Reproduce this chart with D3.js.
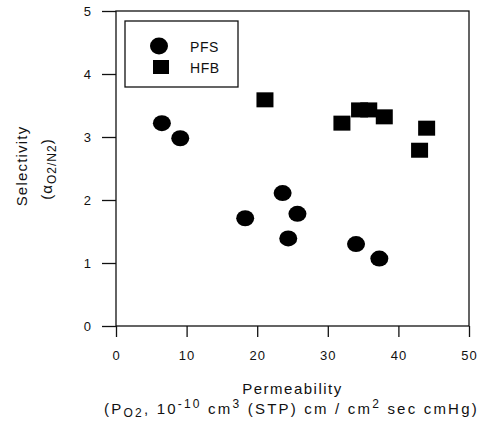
<!DOCTYPE html>
<head>
  <meta charset="utf-8">
  <style>
    body { margin: 0; background: #fff; }
    text { font-family: "Liberation Sans", Arial, sans-serif; fill: #111; }
  </style>
</head>
<body>
  <div id="viz"></div>
  <script src="https://d3js.org/d3.v7.min.js"></script>
  <script>
    // PFS (circles)
    let pfsX = [6.5, 9.1, 18.3, 23.6, 24.4, 25.7, 34.0, 37.3];
    let pfsY = [3.22, 2.98, 1.71, 2.11, 1.39, 1.78, 1.30, 1.07];
    // HFB (squares)
    let hfbX = [21.1, 32.0, 34.5, 35.8, 38.0, 43.0, 44.0];
    let hfbY = [3.59, 3.22, 3.43, 3.43, 3.32, 2.79, 3.14];
    let xTicks = [0, 10, 20, 30, 40, 50];
    let yTicks = [0, 1, 2, 3, 4, 5];

    let margin = { top: 11, left: 116, right: 15, bottom: 102 },
      width = 484 - margin.left - margin.right,
      height = 428 - margin.top - margin.bottom;

    let svg = d3.select('#viz').append('svg')
      .attr('width', 484).attr('height', 428);
    let g = svg.append('g')
      .attr('transform', `translate(${margin.left}, ${margin.top})`);

    let x = d3.scaleLinear().domain([0, 50]).range([0, width]);
    let y = d3.scaleLinear().domain([0, 5]).range([height, 0]);

    // frame
    g.append('rect')
      .attr('width', width).attr('height', height)
      .attr('fill', 'none').attr('stroke', '#111').attr('stroke-width', 1.3);

    let xAxis = g.append('g')
      .attr('transform', `translate(0, ${height})`)
      .call(d3.axisBottom(x).tickValues(xTicks).tickSize(11).tickPadding(14).tickFormat(d3.format('d')));
    let yAxis = g.append('g')
      .call(d3.axisLeft(y).tickValues(yTicks).tickSize(14).tickPadding(10).tickFormat(d3.format('d')));

    [xAxis, yAxis].forEach(a => {
      a.select('.domain').remove();
      a.selectAll('line').attr('stroke', '#111').attr('stroke-width', 1.3);
      a.selectAll('text').style('font-size', '13px').attr('fill', '#111')
        .style('letter-spacing', '1px')
        .style('font-family', '"Liberation Sans", Arial, sans-serif');
    });

    // points
    g.selectAll('.pfs')
      .data(pfsX.map((d, i) => ({ x: d, y: pfsY[i] })))
      .join('ellipse')
      .attr('class', 'pfs')
      .attr('cx', d => x(d.x)).attr('cy', d => y(d.y))
      .attr('rx', 9).attr('ry', 8).attr('fill', '#000');

    g.selectAll('.hfb')
      .data(hfbX.map((d, i) => ({ x: d, y: hfbY[i] })))
      .join('rect')
      .attr('class', 'hfb')
      .attr('x', d => x(d.x) - 8.5).attr('y', d => y(d.y) - 7.5)
      .attr('width', 17).attr('height', 15).attr('fill', '#000');

    // legend
    let leg = svg.append('g').attr('transform', 'translate(125, 21)');
    leg.append('rect').attr('width', 113).attr('height', 66)
      .attr('fill', '#fff').attr('stroke', '#111').attr('stroke-width', 1.3);
    leg.append('ellipse').attr('cx', 34).attr('cy', 25).attr('rx', 9).attr('ry', 8.5).attr('fill', '#000');
    leg.append('rect').attr('x', 28).attr('y', 39).attr('width', 16).attr('height', 14).attr('fill', '#000');
    leg.append('text').attr('x', 65).attr('y', 31).style('font-size', '14px')
      .style('letter-spacing', '0.6px').text('PFS');
    leg.append('text').attr('x', 65).attr('y', 52).style('font-size', '14px')
      .style('letter-spacing', '0.6px').text('HFB');

    // axis titles
    let cx = margin.left + width / 2;
    svg.append('text').attr('x', cx).attr('y', 394).attr('text-anchor', 'middle')
      .style('font-size', '15px').style('letter-spacing', '1.5px').text('Permeability');
    let t2 = svg.append('text').attr('x', cx - 1).attr('y', 414).attr('text-anchor', 'middle')
      .style('font-size', '15px').style('letter-spacing', '2.2px');
    t2.append('tspan').text('(P');
    t2.append('tspan').attr('dy', 3).style('font-size', '12px').text('O2');
    t2.append('tspan').attr('dy', -3).text(', 10');
    t2.append('tspan').attr('dy', -6).style('font-size', '12px').text('-10');
    t2.append('tspan').attr('dy', 6).text(' cm');
    t2.append('tspan').attr('dy', -6).style('font-size', '12px').text('3');
    t2.append('tspan').attr('dy', 6).text(' (STP) cm / cm');
    t2.append('tspan').attr('dy', -6).style('font-size', '12px').text('2');
    t2.append('tspan').attr('dy', 6).text(' sec cmHg)');

    svg.append('text').attr('transform', 'translate(27, 166) rotate(-90)')
      .attr('text-anchor', 'middle').style('font-size', '15px')
      .style('letter-spacing', '1.2px').text('Selectivity');
    let t3 = svg.append('text').attr('transform', 'translate(52, 169) rotate(-90)')
      .attr('text-anchor', 'middle').style('font-size', '15px').style('letter-spacing', '1px');
    t3.append('tspan').text('(α');
    t3.append('tspan').attr('dy', 4).style('font-size', '12px').text('O2/N2');
    t3.append('tspan').attr('dy', -4).text(')');
  </script>
</body>
</html>
